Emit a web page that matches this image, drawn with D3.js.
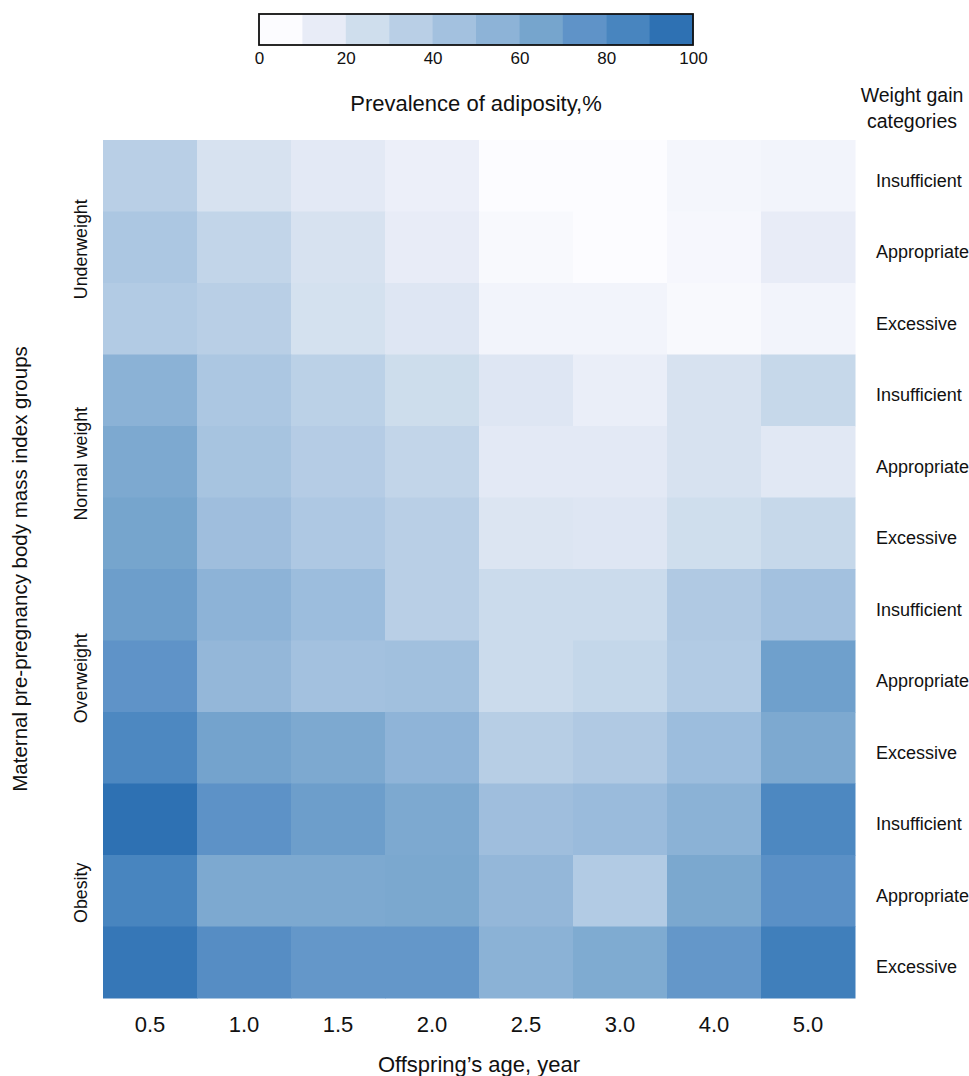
<!DOCTYPE html>
<html>
<head>
<meta charset="utf-8">
<script src="https://cdn.jsdelivr.net/npm/d3@7"></script>
<style>
  body { margin: 0; background: #fff; }
  svg { display: block; font-family: "Liberation Sans", Arial, sans-serif; }
</style>
</head>
<body>
<svg id="chart" width="969" height="1076"></svg>
<script>
// ---- data ----
const ages = ["0.5", "1.0", "1.5", "2.0", "2.5", "3.0", "4.0", "5.0"];
const bmiGroups = ["Underweight", "Normal weight", "Overweight", "Obesity"];
const gainCategories = ["Insufficient", "Appropriate", "Excessive"];
// prevalence (%) per row (group x gain category), per age column
const underweightInsufficient = [35, 22, 17, 13, 3, 5, 9, 10];
const underweightAppropriate  = [41, 31, 22, 15, 7, 5, 8, 15];
const underweightExcessive    = [38, 35, 23, 19, 10, 10, 7, 10];
const normalInsufficient      = [56, 41, 34, 26, 19, 14, 22, 29];
const normalAppropriate       = [62, 43, 37, 31, 17, 17, 22, 18];
const normalExcessive         = [65, 47, 40, 35, 20, 19, 25, 29];
const overweightInsufficient  = [69, 55, 48, 35, 27, 27, 39, 45];
const overweightAppropriate   = [75, 52, 45, 46, 27, 30, 38, 68];
const overweightExcessive     = [83, 66, 62, 54, 36, 39, 48, 62];
const obesityInsufficient     = [96, 76, 69, 62, 47, 49, 56, 83];
const obesityAppropriate      = [85, 62, 62, 63, 52, 38, 63, 77];
const obesityExcessive        = [92, 79, 73, 73, 56, 61, 73, 88];
const legendTicks = [0, 20, 40, 60, 80, 100];
const legendBins = [0, 10, 20, 30, 40, 50, 60, 70, 80, 90];
const binColors = ["#fcfcff", "#e8ecf7", "#cfdeed", "#b9cfe6", "#a3c1df",
                   "#8db3d7", "#76a5cd", "#5f93c8", "#4885bf", "#2e71b3"];

const rowsData = [
  underweightInsufficient, underweightAppropriate, underweightExcessive,
  normalInsufficient, normalAppropriate, normalExcessive,
  overweightInsufficient, overweightAppropriate, overweightExcessive,
  obesityInsufficient, obesityAppropriate, obesityExcessive
];
const rowKeys = [];
bmiGroups.forEach(g => gainCategories.forEach(c => rowKeys.push(g + "|" + c)));
const cells = [];
rowsData.forEach((vals, i) => vals.forEach((v, j) => cells.push({row: rowKeys[i], age: ages[j], value: v})));

// ---- layout ----
const FONT = "'Liberation Sans', Arial, sans-serif";
const svg = d3.select("#chart");
const mLeft = 103, mRight = 855, mTop = 140, mBottom = 998;

const x = d3.scaleBand().domain(ages).range([mLeft, mRight]).padding(0);
const y = d3.scaleBand().domain(rowKeys).range([mTop, mBottom]).padding(0);
const color = d3.scaleLinear()
  .domain(legendBins.map(b => b + 5))
  .range(binColors)
  .clamp(true);

// cells
svg.append("g").selectAll("rect").data(cells).join("rect")
  .attr("x", d => x(d.age))
  .attr("y", d => y(d.row))
  .attr("width", x.bandwidth() + 0.5)
  .attr("height", y.bandwidth() + 0.5)
  .attr("fill", d => color(d.value));

// x axis labels
const xAxis = svg.append("g")
  .attr("transform", `translate(0,${mBottom + 11})`)
  .call(d3.axisBottom(x).tickSize(0).tickPadding(7));
xAxis.select(".domain").remove();
xAxis.selectAll("text").attr("font-size", 22).attr("fill", "#111")
  .attr("font-family", FONT);

svg.append("text")
  .attr("x", (mLeft + mRight) / 2).attr("y", 1072)
  .attr("text-anchor", "middle").attr("font-size", 22).attr("fill", "#111")
  .text("Offspring\u2019s age, year");

// right labels: weight gain categories
const rAxis = svg.append("g")
  .attr("transform", `translate(${mRight + 21},5)`)
  .call(d3.axisRight(y).tickSize(0).tickPadding(0).tickFormat(d => d.split("|")[1]));
rAxis.select(".domain").remove();
rAxis.selectAll("text").attr("font-size", 18).attr("fill", "#111")
  .attr("font-family", FONT);

const wg = svg.append("text").attr("text-anchor", "middle").attr("font-size", 19.5).attr("fill", "#111");
wg.append("tspan").attr("x", 912).attr("y", 102).text("Weight gain");
wg.append("tspan").attr("x", 912).attr("y", 128).text("categories");

// group labels (rotated)
const groupBand = d3.scaleBand().domain(bmiGroups).range([mTop, mBottom]);
svg.append("g").selectAll("text").data(bmiGroups).join("text")
  .attr("transform", d => `translate(87,${groupBand(d) + groupBand.bandwidth() / 2 + 2}) rotate(-90)`)
  .attr("text-anchor", "middle").attr("font-size", 17.8).attr("fill", "#111")
  .text(d => d);

svg.append("text")
  .attr("transform", `translate(27,${(mTop + mBottom) / 2}) rotate(-90)`)
  .attr("text-anchor", "middle").attr("font-size", 20.5).attr("fill", "#111")
  .text("Maternal pre-pregnancy body mass index groups");

// ---- legend ----
const lx = d3.scaleLinear().domain([0, 100]).range([259, 693]);
const lg = svg.append("g");
lg.selectAll("rect").data(legendBins).join("rect")
  .attr("x", d => lx(d)).attr("y", 14)
  .attr("width", lx(10) - lx(0) + 0.5).attr("height", 31)
  .attr("fill", (d, i) => binColors[i]);
lg.append("rect").attr("x", lx(0)).attr("y", 14)
  .attr("width", lx(100) - lx(0)).attr("height", 31)
  .attr("fill", "none").attr("stroke", "#111").attr("stroke-width", 1.8);
const la = lg.append("g").attr("transform", "translate(0,47)")
  .call(d3.axisBottom(lx).tickValues(legendTicks).tickSize(0).tickPadding(5));
la.select(".domain").remove();
la.selectAll("text").attr("font-size", 17).attr("fill", "#111")
  .attr("font-family", FONT);

svg.append("text")
  .attr("x", 476).attr("y", 111)
  .attr("text-anchor", "middle").attr("font-size", 22).attr("fill", "#111")
  .text("Prevalence of adiposity,%");
</script>
</body>
</html>
